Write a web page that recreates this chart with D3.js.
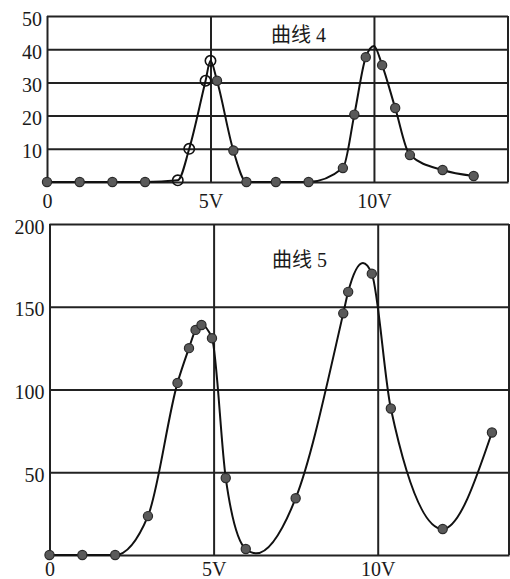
<!DOCTYPE html>
<html>
<head>
<meta charset="utf-8">
<script src="https://cdn.jsdelivr.net/npm/d3@7"></script>
<style>
  body { margin: 0; background: #fff; }
  text { font-family: "Liberation Serif", "DejaVu Serif", "Noto Sans CJK SC", serif; fill: #1a1a1a; }
</style>
</head>
<body>
<div id="chart"></div>
<script>
// voltage ticks shared by both panels
const xTickValues = [0, 5, 10];
const xTickLabels = ["0", "5V", "10V"];

// ---- curve 4 (top panel) ----
const yTicks4 = [10, 20, 30, 40, 50];
// measured points drawn as open circles
const openV4 = [4, 4.35, 4.85, 5.0];
const openI4 = [0.5, 10, 30.5, 36.5];
// measured points drawn as filled dots
const fillV4 = [0, 1, 2, 3, 5.2, 5.7, 6.1, 7, 8, 9.05, 9.4, 9.75, 10.25, 10.65, 11.1, 12.1, 13.05];
const fillI4 = [0, 0, 0, 0, 30.5, 9.5, 0, 0, 0, 4.2, 20.3, 37.6, 35.2, 22.3, 8.1, 3.6, 1.8];
// drawn curve (passes through the points, plus the peak at 10V)
const curveV4 = [0, 1, 2, 3, 4, 4.35, 4.85, 5.0, 5.2, 5.7, 6.1, 7, 8, 9.05, 9.4, 9.75, 10, 10.25, 10.65, 11.1, 12.1, 13.05];
const curveI4 = [0, 0, 0, 0, 0.5, 10, 30.5, 36.5, 30.5, 9.5, 0, 0, 0, 4.2, 20.3, 37.6, 41, 35.2, 22.3, 8.1, 3.6, 1.8];

// ---- curve 5 (bottom panel) ----
const yTicks5 = [50, 100, 150, 200];
const fillV5 = [0, 1, 2, 3, 3.9, 4.25, 4.45, 4.63, 4.95, 5.37, 5.98, 7.5, 8.95, 9.1, 9.82, 10.4, 11.98, 13.48];
const fillI5 = [0, 0, 0, 23.5, 104, 125, 136, 139, 131, 46.5, 3.6, 34.3, 146, 159, 170, 88.5, 15.7, 74];
const curveV5 = [0, 1, 2, 3, 3.9, 4.25, 4.45, 4.63, 4.95, 5.37, 5.98, 6.3, 7.5, 8.95, 9.1, 9.55, 9.82, 10.4, 11.98, 13.48];
const curveI5 = [0, 0, 0, 23.5, 104, 125, 136, 139, 131, 46.5, 3.6, 1, 34.3, 146, 159, 176.5, 170, 88.5, 15.7, 74];

const svg = d3.select("#chart").append("svg")
    .attr("width", 510)
    .attr("height", 579);

const ink = "#222";

function drawPanel(p) {
    const x = d3.scaleLinear().domain([0, p.xMax]).range(p.xRange);
    const y = d3.scaleLinear().domain([0, p.yMax]).range(p.yRange);
    const w = p.xRange[1] - p.xRange[0];
    const h = p.yRange[0] - p.yRange[1];
    const g = svg.append("g");

    // horizontal grid + y labels
    const yAxis = g.append("g")
        .attr("transform", `translate(${p.xRange[0]},0)`)
        .call(d3.axisLeft(y).tickValues(p.yTicks).tickSize(-w).tickPadding(5));
    yAxis.select(".domain").remove();
    yAxis.selectAll("line").attr("stroke", ink).attr("stroke-width", 2);
    yAxis.selectAll("text").attr("font-size", 20).attr("dy", "0.45em")
        .style("font-family", "Liberation Serif, DejaVu Serif, serif").attr("fill", ink);

    // vertical grid + x labels, baseline as domain
    const xAxis = g.append("g")
        .attr("transform", `translate(0,${p.yRange[0]})`)
        .call(d3.axisBottom(x).tickValues(xTickValues).tickSize(-h).tickSizeOuter(0)
            .tickPadding(p.labelPad).tickFormat((d, i) => xTickLabels[i]));
    xAxis.select(".domain").attr("stroke", ink).attr("stroke-width", 2);
    xAxis.selectAll("line").attr("stroke", ink).attr("stroke-width", 2);
    xAxis.selectAll("text").attr("font-size", 20)
        .style("font-family", "Liberation Serif, DejaVu Serif, serif").attr("fill", ink);

    // right border
    g.append("line")
        .attr("x1", x(p.xMax)).attr("x2", x(p.xMax))
        .attr("y1", y(p.yMax)).attr("y2", y(0))
        .attr("stroke", ink).attr("stroke-width", 2);

    // curve
    const pts = p.curveV.map((v, i) => [v, p.curveI[i]]);
    g.append("path")
        .datum(pts)
        .attr("fill", "none")
        .attr("stroke", "#111")
        .attr("stroke-width", 2)
        .attr("d", d3.line().x(d => x(d[0])).y(d => y(d[1])).curve(d3.curveMonotoneX));

    // filled dots
    g.selectAll(".dot")
        .data(p.fillV.map((v, i) => [v, p.fillI[i]]))
        .enter().append("circle")
        .attr("class", "dot")
        .attr("cx", d => x(d[0]))
        .attr("cy", d => y(d[1]))
        .attr("r", 4.6)
        .attr("fill", "#5a5a5a")
        .attr("stroke", "#2a2a2a")
        .attr("stroke-width", 1.2);

    // open circles
    if (p.openV) {
        g.selectAll(".ring")
            .data(p.openV.map((v, i) => [v, p.openI[i]]))
            .enter().append("circle")
            .attr("class", "ring")
            .attr("cx", d => x(d[0]))
            .attr("cy", d => y(d[1]))
            .attr("r", 5.2)
            .attr("fill", "none")
            .attr("stroke", "#111")
            .attr("stroke-width", 1.6);
    }

    // curve name
    g.append("text")
        .attr("x", p.titleX)
        .attr("y", p.titleY)
        .attr("font-size", 20)
        .text(p.title);
}

drawPanel({
    xMax: 14.1, xRange: [47, 508],
    yMax: 50, yRange: [182, 16],
    yTicks: yTicks4, labelPad: 12,
    curveV: curveV4, curveI: curveI4,
    fillV: fillV4, fillI: fillI4,
    openV: openV4, openI: openI4,
    title: "曲线 4", titleX: 271, titleY: 42
});

drawPanel({
    xMax: 14, xRange: [49.5, 509],
    yMax: 200, yRange: [555, 224],
    yTicks: yTicks5, labelPad: 7,
    curveV: curveV5, curveI: curveI5,
    fillV: fillV5, fillI: fillI5,
    title: "曲线 5", titleX: 272, titleY: 267
});
</script>
</body>
</html>
